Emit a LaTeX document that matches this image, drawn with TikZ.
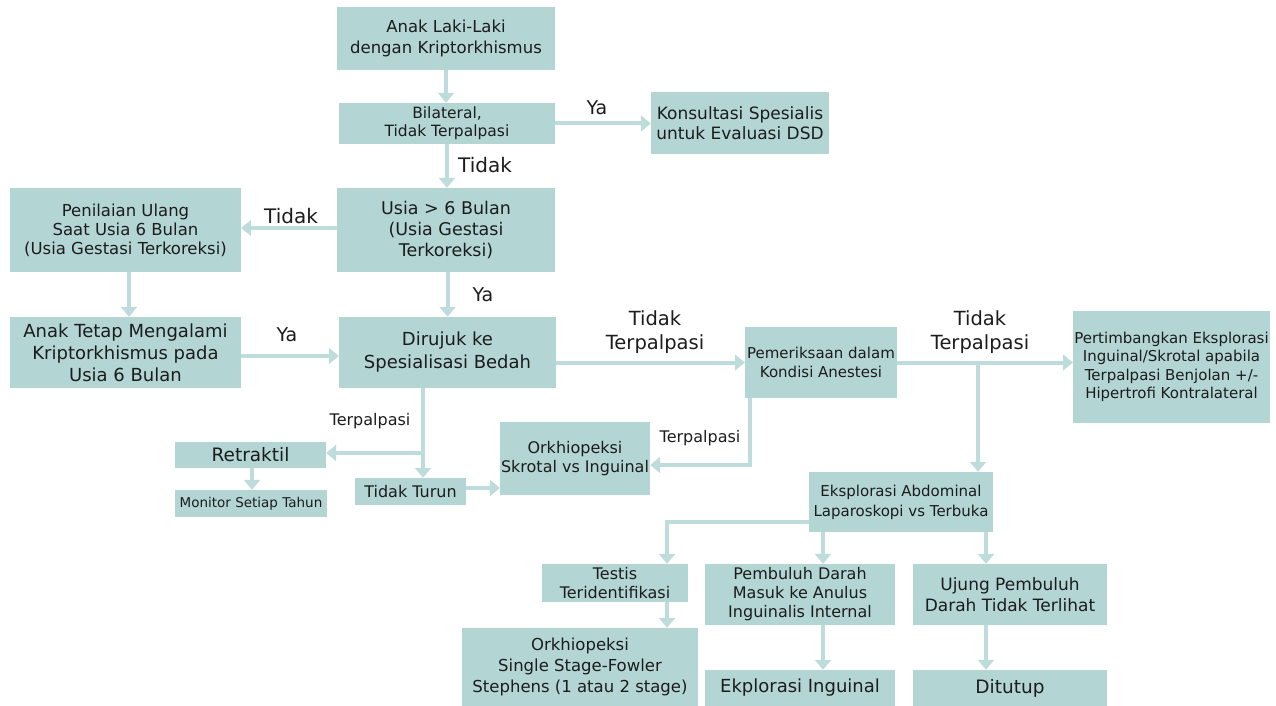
\documentclass[tikz,border=0pt]{standalone}
\usepackage{fontspec}
\setmainfont{DejaVu Sans}
\usetikzlibrary{arrows.meta,calc}
\definecolor{boxfill}{HTML}{B3D6D5}
\definecolor{linkcol}{HTML}{BEDCDB}
\definecolor{ink}{HTML}{1C1C1C}
\newcommand\fsz[2]{\fontsize{#1}{#2}\selectfont}

\begin{document}
\begin{tikzpicture}[x=1pt,y=-1pt,
  box/.style={fill=boxfill, text=ink, align=center, inner sep=0pt, anchor=center},
  link/.style={draw=linkcol, line width=4pt, -{Triangle[width=16pt,length=10pt]}},
  lbl/.style={text=ink, inner sep=0pt, align=center},
]
\useasboundingbox (0,0) rectangle (1276,706);

% ---- boxes ----
\node[box, minimum width=218pt, minimum height=63pt, font=\fsz{16.5}{21}] (anak) at (446,38.5) {Anak Laki-Laki\\dengan Kriptorkhismus};
\node[box, minimum width=216pt, minimum height=41pt, font=\fsz{15.5}{18}] (bilat) at (447,123.5) {Bilateral,\\Tidak Terpalpasi};
\node[box, minimum width=178pt, minimum height=61pt, font=\fsz{17}{20}] (kons) at (740,123) {Konsultasi Spesialis\\untuk Evaluasi DSD};
\node[box, minimum width=218pt, minimum height=84pt, font=\fsz{17.5}{21}] (usia) at (446,230) {Usia > 6 Bulan\\(Usia Gestasi\\Terkoreksi)};
\node[box, minimum width=231pt, minimum height=84pt, font=\fsz{16.5}{19}] (penil) at (125.5,230) {Penilaian Ulang\\Saat Usia 6 Bulan\\(Usia Gestasi Terkoreksi)};
\node[box, minimum width=231pt, minimum height=71pt, font=\fsz{18}{22}] (anakt) at (125.5,352.5) {Anak Tetap Mengalami\\Kriptorkhismus pada\\Usia 6 Bulan};
\node[box, minimum width=217pt, minimum height=71pt, font=\fsz{18}{23}] (diruj) at (447.5,352.5) {Dirujuk ke\\Spesialisasi Bedah};
\node[box, minimum width=152pt, minimum height=71pt, font=\fsz{15}{19}] (pem) at (821,362.5) {Pemeriksaan dalam\\Kondisi Anestesi};
\node[box, minimum width=197pt, minimum height=112pt, font=\fsz{15}{18.3}] (pert) at (1171.5,367) {Pertimbangkan Eksplorasi\\Inguinal/Skrotal apabila\\Terpalpasi Benjolan +/-\\Hipertrofi Kontralateral};
\node[box, minimum width=150pt, minimum height=73pt, font=\fsz{16}{19}] (orkh) at (575,458.5) {Orkhiopeksi\\Skrotal vs Inguinal};
\node[box, minimum width=151pt, minimum height=26pt, font=\fsz{18.5}{22}] (retr) at (250.5,455) {Retraktil};
\node[box, minimum width=152pt, minimum height=27pt, font=\fsz{13.5}{16}] (mon) at (251,503.5) {Monitor Setiap Tahun};
\node[box, minimum width=111pt, minimum height=27pt, font=\fsz{16}{19}] (tt) at (410.5,491.5) {Tidak Turun};
\node[box, minimum width=184pt, minimum height=60pt, font=\fsz{15}{20}] (eks) at (901,502) {Eksplorasi Abdominal\\Laparoskopi vs Terbuka};
\node[box, minimum width=146pt, minimum height=38pt, font=\fsz{16}{19}] (testis) at (615,583) {Testis\\Teridentifikasi};
\node[box, minimum width=236pt, minimum height=78pt, font=\fsz{16.5}{21}] (os) at (580,667) {Orkhiopeksi\\Single Stage-Fowler\\Stephens (1 atau 2 stage)};
\node[box, minimum width=190pt, minimum height=61pt, font=\fsz{16}{19}] (pemb) at (800,594.5) {Pembuluh Darah\\Masuk ke Anulus\\Inguinalis Internal};
\node[box, minimum width=190pt, minimum height=36pt, font=\fsz{18}{22}] (ekpl) at (800,688) {Ekplorasi Inguinal};
\node[box, minimum width=194pt, minimum height=61pt, font=\fsz{17}{21}] (ujung) at (1010,594.5) {Ujung Pembuluh\\Darah Tidak Terlihat};
\node[box, minimum width=194pt, minimum height=36pt, font=\fsz{18.5}{22}] (ditutup) at (1010,688) {Ditutup};

% ---- branch points ----
\coordinate (jF) at (978,362);
\coordinate (kO) at (750,465);
\coordinate (kD) at (423,453);
\coordinate (kT) at (667,522);
\coordinate (kV) at (823,0);
\coordinate (kU) at (986,0);

% ---- connectors ----
\draw[link] (anak.south) -- (anak.south |- bilat.north);
\draw[link] (bilat.east) -- (bilat.east -| kons.west);
\draw[link] (bilat.south) -- (bilat.south |- usia.north);
\draw[link] ([yshift=2pt]usia.west) -- ([yshift=2pt]usia.west -| penil.east);
\draw[link] ([xshift=3.5pt]penil.south) -- ([xshift=3.5pt]penil.south |- anakt.north);
\draw[link] (usia.south -| diruj.north) -- (diruj.north);
\draw[link] ([yshift=-3.5pt]anakt.east) -- ([yshift=-3.5pt]anakt.east -| diruj.west);
\draw[link] (diruj.east |- pem.west) -- (pem.west);
\draw[link] (pem.east) -- (pem.east -| pert.west);
\draw[link] (jF) -- (jF |- eks.north);
\draw[link] (pem.south -| kO) -- (kO) -- (kO -| orkh.east);
\draw[link] (diruj.south -| kD) -- (kD |- tt.north);
\draw[link] (kD) -- (kD -| retr.east);
\draw[link] ([xshift=1.5pt]retr.south) -- ([xshift=1.5pt]retr.south |- mon.north);
\draw[link] ([yshift=3.5pt]tt.east) -- ([yshift=3.5pt]tt.east -| orkh.west);
\draw[link] (eks.west |- kT) -- (kT) -- (kT |- testis.north);
\draw[link] (eks.south -| kV) -- (pemb.north -| kV);
\draw[link] (eks.south -| kU) -- (ujung.north -| kU);
\draw[link] (testis.south -| kT) -- (os.north -| kT);
\draw[link] (pemb.south -| kV) -- (ekpl.north -| kV);
\draw[link] (ujung.south -| kU) -- (ditutup.north -| kU);

% ---- connector labels ----
\node[lbl, font=\fsz{19}{22}] (lya1) at (597,108) {Ya};
\node[lbl, font=\fsz{20}{24}] (ltd1) at (485,165) {Tidak};
\node[lbl, font=\fsz{20}{24}] (ltd2) at (291,216) {Tidak};
\node[lbl, font=\fsz{19}{22}] (lya2) at (483,295) {Ya};
\node[lbl, font=\fsz{19}{22}] (lya3) at (287,335) {Ya};
\node[lbl, font=\fsz{19.5}{24}] (ltp1) at (655,332) {Tidak\\Terpalpasi};
\node[lbl, font=\fsz{19.5}{24}] (ltp2) at (980,332) {Tidak\\Terpalpasi};
\node[lbl, font=\fsz{16}{19}] (lp1) at (370,421) {Terpalpasi};
\node[lbl, font=\fsz{16}{19}] (lp2) at (700,438) {Terpalpasi};
\end{tikzpicture}
\end{document}
